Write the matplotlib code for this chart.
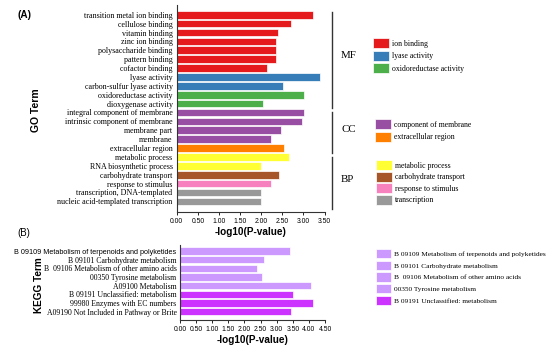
import matplotlib
matplotlib.use("Agg")
import matplotlib.pyplot as plt
from matplotlib.patches import Patch

# ---- data: GO enrichment (panel A) ----
go_terms = [
    "transition metal ion binding", "cellulose binding", "vitamin binding",
    "zinc ion binding", "polysaccharide binding", "pattern binding",
    "cofactor binding", "lyase activity", "carbon-sulfur lyase activity",
    "oxidoreductase activity", "dioxygenase activity",
    "integral component of membrane", "intrinsic component of membrane",
    "membrane part", "membrane", "extracellular region",
    "metabolic process", "RNA biosynthetic process", "carbohydrate transport",
    "response to stimulus", "transcription, DNA-templated",
    "nucleic acid-templated transcription",
]
go_values = [3.22, 2.70, 2.39, 2.35, 2.35, 2.35, 2.14, 3.39, 2.51, 3.01, 2.04,
             3.02, 2.97, 2.47, 2.24, 2.53, 2.67, 2.00, 2.43, 2.24, 2.00, 2.00]
go_groups = ["ion binding"] * 7 + ["lyase activity"] * 2 + ["oxidoreductase activity"] * 2 \
    + ["component of membrane"] * 4 + ["extracellular region"] \
    + ["metabolic process"] * 2 + ["carbohydrate transport", "response to stimulus"] \
    + ["transcription"] * 2

go_colors = {
    "ion binding": "#E41A1C",
    "lyase activity": "#377EB8",
    "oxidoreductase activity": "#4DAF4A",
    "component of membrane": "#984EA3",
    "extracellular region": "#FF7F00",
    "metabolic process": "#FFFF33",
    "carbohydrate transport": "#A65628",
    "response to stimulus": "#F781BF",
    "transcription": "#999999",
}
mf_legend = ["ion binding", "lyase activity", "oxidoreductase activity"]
cc_legend = ["component of membrane", "extracellular region"]
bp_legend = ["metabolic process", "carbohydrate transport", "response to stimulus", "transcription"]

# ---- data: KEGG enrichment (panel B) ----
kegg_terms = [
    "B 09109 Metabolism of terpenoids and polyketides",
    "B 09101 Carbohydrate metabolism",
    "B  09106 Metabolism of other amino acids",
    "00350 Tyrosine metabolism",
    "A09100 Metabolism",
    "B 09191 Unclassified: metabolism",
    "99980 Enzymes with EC numbers",
    "A09190 Not Included in Pathway or Brite",
]
kegg_values = [3.40, 2.61, 2.40, 2.56, 4.06, 3.52, 4.12, 3.45]
kegg_light = "#CC99FF"
kegg_dark = "#CC33FF"
kegg_colors = [kegg_light] * 5 + [kegg_dark] * 3
kegg_legend = kegg_terms[:4] + [kegg_terms[5]]
kegg_legend_colors = [kegg_light] * 4 + [kegg_dark]

W, H = 554, 347
fig = plt.figure(figsize=(W / 100, H / 100), dpi=100)


def box(x0, y0, x1, y1):
    # pixel box (top-left origin) -> figure fraction
    return [x0 / W, 1 - y1 / H, (x1 - x0) / W, (y1 - y0) / H]


serif = "Liberation Serif"
sans = "Liberation Sans"

# ---------- panel A ----------
axA = fig.add_axes(box(176.7, 5, 324.5, 212))
yA = list(range(len(go_terms)))
axA.barh(yA, go_values, height=0.86, color=[go_colors[g] for g in go_groups],
         edgecolor="white", linewidth=0.5)
axA.set_ylim(22.2, -1.1)
axA.set_xlim(0, 3.5)
axA.set_xticks([0, 0.5, 1, 1.5, 2, 2.5, 3, 3.5])
axA.set_xticklabels([f"{v:.2f}" for v in axA.get_xticks()], fontsize=4.9, family=sans)
axA.set_yticks(yA)
axA.set_yticklabels(go_terms, fontsize=5.75, family=serif)
axA.set_xlabel("-log10(P-value)", fontsize=7.2, fontweight="bold", family=sans, labelpad=2)
for s in ["top", "right"]:
    axA.spines[s].set_visible(False)
for s in ["left", "bottom"]:
    axA.spines[s].set_linewidth(0.8)
    axA.spines[s].set_color("#333333")
axA.tick_params(axis="y", length=0, pad=3)
axA.tick_params(axis="x", length=2.5, width=0.6, pad=1.5)

fig.text(17 / W, 1 - 15 / H, "(A)", fontsize=7.2, fontweight="bold", family=sans, va="center")
fig.text(36 / W, 1 - 110 / H, "GO Term", fontsize=7.5, fontweight="bold", family=sans,
         rotation=90, va="center", ha="center")

# bracket lines and group labels
for (y0, y1), lab, ylab in [((12, 108), "MF", 55), ((112, 153), "CC", 129), ((157, 209), "BP", 180)]:
    fig.add_artist(plt.Line2D([332 / W, 332 / W], [1 - y0 / H, 1 - y1 / H],
                              color="#333333", linewidth=1.0))
    fig.text(341 / W, 1 - ylab / H, lab, fontsize=7.8, family=serif, va="center")


def add_legend(names, colors, x, y_top, fs=5.6, spacing=0.35):
    handles = [Patch(facecolor=c, edgecolor="white", linewidth=0.5) for c in colors]
    leg = fig.legend(handles, names, loc="upper left", bbox_to_anchor=(x / W, 1 - y_top / H),
                     frameon=False, prop={"family": serif, "size": fs},
                     handlelength=2.0, handleheight=1.6, handletextpad=0.45,
                     labelspacing=spacing, borderpad=0, borderaxespad=0)
    return leg


add_legend(mf_legend, [go_colors[n] for n in mf_legend], 373, 38)
add_legend(cc_legend, [go_colors[n] for n in cc_legend], 375, 119)
add_legend(bp_legend, [go_colors[n] for n in bp_legend], 376, 160, spacing=0.2)

# ---------- panel B ----------
axB = fig.add_axes(box(180, 245, 325, 320))
yB = list(range(len(kegg_terms)))
axB.barh(yB, kegg_values, height=0.86, color=kegg_colors, edgecolor="white", linewidth=0.5)
axB.set_ylim(7.97, -0.7)
axB.set_xlim(0, 4.5)
axB.set_xticks([0, 0.5, 1, 1.5, 2, 2.5, 3, 3.5, 4, 4.5])
axB.set_xticklabels([f"{v:.2f}" for v in axB.get_xticks()], fontsize=4.9, family=sans)
axB.set_yticks(yB)
axB.set_yticklabels(kegg_terms, fontsize=5.6, family=serif)
first = axB.get_yticklabels()[0]
first.set_family(sans)
first.set_fontsize(5.2)
axB.set_xlabel("-log10(P-value)", fontsize=7.2, fontweight="bold", family=sans, labelpad=2)
for s in ["top", "right"]:
    axB.spines[s].set_visible(False)
for s in ["left", "bottom"]:
    axB.spines[s].set_linewidth(0.8)
    axB.spines[s].set_color("#333333")
axB.tick_params(axis="y", length=0, pad=2.5)
axB.tick_params(axis="x", length=2.5, width=0.6, pad=1.5)

fig.text(17 / W, 1 - 233 / H, "(B)", fontsize=7, family=sans, va="center")
fig.text(39 / W, 1 - 285 / H, "KEGG Term", fontsize=7.2, fontweight="bold", family=sans,
         rotation=90, va="center", ha="center")

add_legend(kegg_legend, kegg_legend_colors, 376, 249, fs=5.3, spacing=0.3)

fig.savefig("out.png", dpi=100)
